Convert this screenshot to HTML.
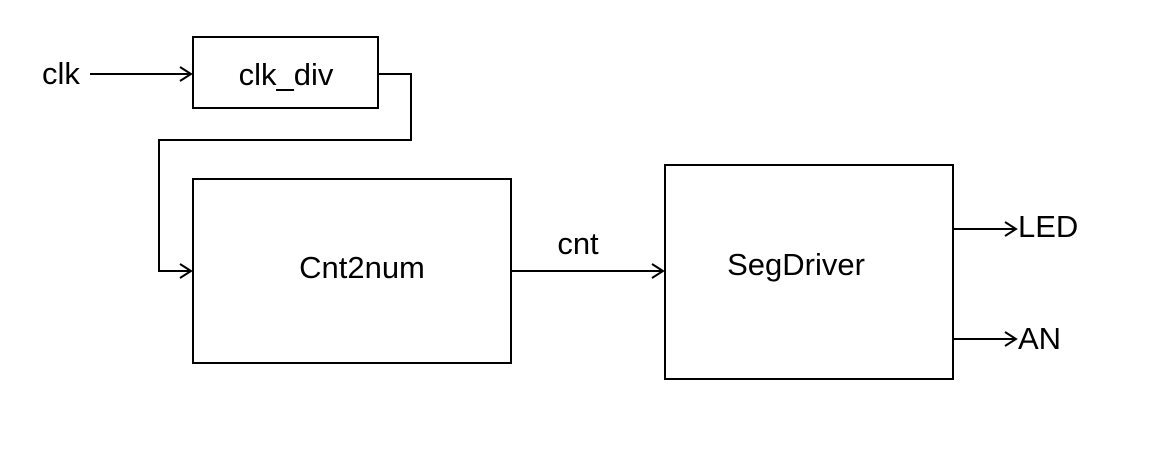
<!DOCTYPE html>
<html><head><style>
body{margin:0;background:#fff;width:1161px;height:445px;overflow:hidden}
text{font-family:"Liberation Sans",sans-serif;font-size:31px;fill:#000}
</style></head><body>
<svg width="1161" height="445" viewBox="0 0 1161 445">
<g fill="none" stroke="#000" stroke-width="2">
<rect x="193" y="37" width="185" height="71"/>
<rect x="193" y="179" width="318" height="184"/>
<rect x="665" y="165" width="288" height="214"/>
<path d="M90 74H191M180 67l11 7-11 7"/>
<path d="M378 74H411V140H159V271H191M180 264l11 7-11 7"/>
<path d="M511 271H663M652 264l11 7-11 7"/>
<path d="M953 229H1016M1005 222l11 7-11 7"/>
<path d="M953 339H1016M1005 332l11 7-11 7"/>
</g>
<text x="42" y="84">clk</text>
<text x="286" y="85" text-anchor="middle">clk_div</text>
<text x="362" y="278" text-anchor="middle">Cnt2num</text>
<text x="578" y="254" text-anchor="middle">cnt</text>
<text x="796" y="275" text-anchor="middle">SegDriver</text>
<text x="1018" y="237">LED</text>
<text x="1018" y="349">AN</text>
</svg>
</body></html>
